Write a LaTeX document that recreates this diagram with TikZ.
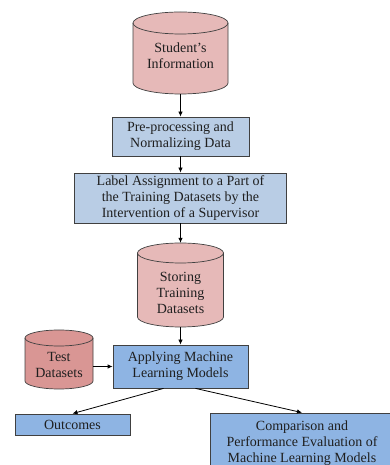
\documentclass[tikz,border=0pt]{standalone}
\usepackage{fontspec}
\setmainfont{Liberation Serif}
\usetikzlibrary{arrows.meta}
\definecolor{cylpink}{HTML}{E6B9B8}
\definecolor{cylred}{HTML}{D99694}
\definecolor{boxlight}{HTML}{B9CDE5}
\definecolor{boxblue}{HTML}{8EB4E3}
\definecolor{edgecol}{HTML}{404040}
\begin{document}
\begin{tikzpicture}[x=1pt,y=1pt,
  txt/.style={font=\fontsize{14}{16}\selectfont, align=center, text=black!88},
  box/.style={txt, draw=edgecol, line width=0.8pt, inner sep=0pt},
  lightbox/.style={box, fill=boxlight},
  bluebox/.style={box, fill=boxblue},
  cylnode/.style={txt, inner sep=0pt},
  cylbody/.style={draw=edgecol, line width=0.7pt},
  arr/.style={-{Latex[length=5pt,width=4.5pt]}, line width=0.8pt, black}]
\useasboundingbox (0,0) rectangle (390,465);

% Student's Information cylinder
\filldraw[cylbody, fill=cylpink] (133,442) -- (133,382)
  arc[start angle=180,end angle=360,x radius=47.5,y radius=11] -- (228,442)
  arc[start angle=0,end angle=180,x radius=47.5,y radius=11] -- cycle;
\draw[cylbody] (133,442) arc[start angle=180,end angle=360,x radius=47.5,y radius=11];
\node[cylnode, minimum width=95, minimum height=82] (si) at (180.5,412)
  {\rule{0pt}{16pt}Student's\\Information};

% Storing Training Datasets cylinder
\filldraw[cylbody, fill=cylpink] (137.5,212) -- (137.5,148)
  arc[start angle=180,end angle=360,x radius=43,y radius=10] -- (223.5,212)
  arc[start angle=0,end angle=180,x radius=43,y radius=10] -- cycle;
\draw[cylbody] (137.5,212) arc[start angle=180,end angle=360,x radius=43,y radius=10];
\node[cylnode, minimum width=86, minimum height=84] (st) at (180.5,180)
  {\rule{0pt}{26pt}Storing\\Training\\Datasets};

% Test Datasets cylinder
\filldraw[cylbody, fill=cylred] (25,127) -- (25,84)
  arc[start angle=180,end angle=360,x radius=34,y radius=8] -- (93,127)
  arc[start angle=0,end angle=180,x radius=34,y radius=8] -- cycle;
\draw[cylbody] (25,127) arc[start angle=180,end angle=360,x radius=34,y radius=8];
\node[cylnode, minimum width=68, minimum height=59] (ts) at (59,105.5)
  {\rule{0pt}{20pt}Test\\Datasets};

% Boxes
\node[lightbox, minimum width=137, minimum height=39] (pp) at (180.5,328.5)
  {Pre-processing and\\Normalizing Data};
\node[lightbox, minimum width=212, minimum height=50] (la) at (180.5,267)
  {Label Assignment to a Part of\\the Training Datasets by the\\Intervention of a Supervisor};
\node[bluebox, minimum width=135, minimum height=43] (ap) at (180.5,98.5)
  {Applying Machine\\Learning Models};
\node[bluebox, minimum width=115, minimum height=21] (oc) at (72.5,40.5)
  {Outcomes};
\node[bluebox, minimum width=184, minimum height=60] (cm) at (302,22)
  {Comparison and\\Performance Evaluation of\\Machine Learning Models};

% Connectors
\draw[arr] (si) -- (pp);
\draw[arr] (pp) -- (la);
\draw[arr] (la) -- (st);
\draw[arr] (st) -- (ap);
\draw[arr] (ts.east |- ap.west) -- (ap.west);
\draw[arr] ([xshift=-17pt]ap.south) -- (oc.north);
\draw[arr] ([xshift=15pt]ap.south) -- (cm.north);
\end{tikzpicture}
\end{document}
